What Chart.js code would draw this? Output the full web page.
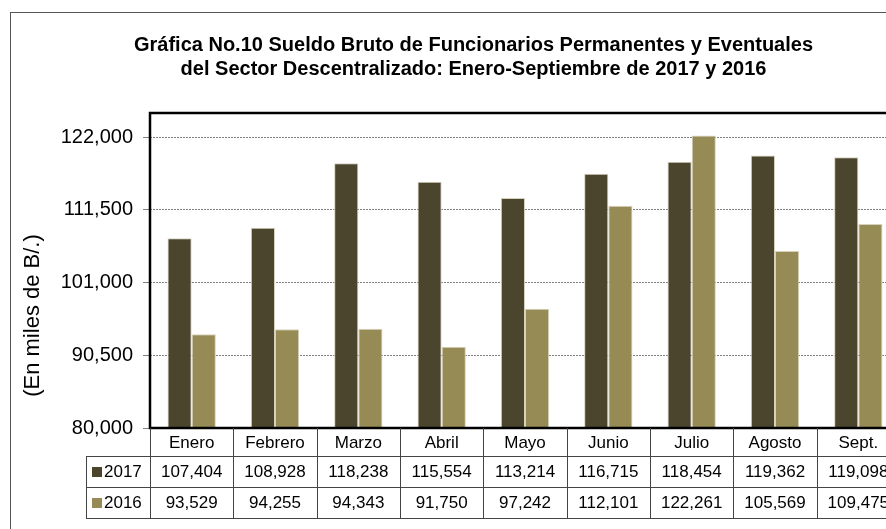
<!DOCTYPE html>
<html lang="es">
<head>
<meta charset="UTF-8">
<title>Gráfica No.10 Sueldo Bruto</title>
<script src="https://cdn.jsdelivr.net/npm/chart.js"></script>
<style>
  body { margin: 0; overflow: hidden; background: #fff; }
  .frame {
    position: absolute;
    left: 10px;
    top: 12px;
    width: 924px;
    height: 540px;
    border: 1px solid #555;
  }
  canvas { display: block; }
</style>
</head>
<body>
<div class="frame"><canvas id="chart" width="924" height="540"></canvas></div>
<script>
  const months = ['Enero', 'Febrero', 'Marzo', 'Abril', 'Mayo', 'Junio', 'Julio', 'Agosto', 'Sept.'];
  const sueldo2017 = [107404, 108928, 118238, 115554, 113214, 116715, 118454, 119362, 119098];
  const sueldo2016 = [93529, 94255, 94343, 91750, 97242, 112101, 122261, 105569, 109475];
  const seriesNames = ['2017', '2016'];
  const yTicks = [80000, 90500, 101000, 111500, 122000];

  const FONT = '"Liberation Sans", Arial, sans-serif';
  const colors = ['#4b452e', '#978b55'];
  const fmt = v => v.toLocaleString('en-US');

  // data table under the plot + frame + rotated axis title
  const dataTable = {
    id: 'dataTable',
    afterDatasetsDraw(chart) {
      const { ctx, chartArea: a } = chart;
      ctx.save();
      ctx.strokeStyle = '#000';
      ctx.lineWidth = 2.5;
      ctx.strokeRect(a.left, a.top, a.right - a.left, a.bottom - a.top);
      ctx.restore();
    },
    afterDraw(chart) {
      const { ctx, chartArea: a, scales: { x } } = chart;
      const rows = [a.bottom, a.bottom + 28, a.bottom + 59, a.bottom + 90];
      const legendLeft = a.left - 64;
      const edges = months.map((m, i) =>
        i === 0 ? a.left : (x.getPixelForValue(i - 1) + x.getPixelForValue(i)) / 2);
      edges.push(a.right);

      ctx.save();
      ctx.strokeStyle = '#444';
      ctx.lineWidth = 1;
      ctx.beginPath();
      for (let r = 1; r < rows.length; r++) {
        ctx.moveTo(legendLeft, Math.round(rows[r]) + 0.5);
        ctx.lineTo(a.right, Math.round(rows[r]) + 0.5);
      }
      edges.forEach((e, i) => {
        if (i === 0) return;
        ctx.moveTo(Math.round(e) + 0.5, rows[0]);
        ctx.lineTo(Math.round(e) + 0.5, rows[3]);
      });
      ctx.moveTo(Math.round(a.left) + 0.5, rows[0]);
      ctx.lineTo(Math.round(a.left) + 0.5, rows[3]);
      ctx.moveTo(legendLeft + 0.5, rows[1]);
      ctx.lineTo(legendLeft + 0.5, rows[3]);
      ctx.stroke();

      ctx.fillStyle = '#000';
      ctx.font = '17px ' + FONT;
      ctx.textAlign = 'center';
      ctx.textBaseline = 'middle';
      const series = [sueldo2017, sueldo2016];
      months.forEach((m, i) => {
        const cx = (edges[i] + edges[i + 1]) / 2;
        ctx.fillText(m, cx, rows[0] + 15);
        series.forEach((s, k) => ctx.fillText(fmt(s[i]), cx, rows[k + 1] + 16));
      });

      ctx.textAlign = 'left';
      seriesNames.forEach((n, k) => {
        const cy = rows[k + 1] + 16;
        ctx.fillStyle = colors[k];
        ctx.fillRect(legendLeft + 6, cy - 5, 10, 10);
        ctx.fillStyle = '#000';
        ctx.fillText(n, legendLeft + 18, cy);
      });

      ctx.translate(22, (a.top + rows[3]) / 2);
      ctx.rotate(-Math.PI / 2);
      ctx.textAlign = 'center';
      ctx.font = '22px ' + FONT;
      ctx.fillText('(En miles de B/.)', 0, 0);
      ctx.restore();
    }
  };

  new Chart(document.getElementById('chart'), {
    type: 'bar',
    data: {
      labels: months,
      datasets: [
        { label: seriesNames[0], data: sueldo2017, backgroundColor: colors[0] },
        { label: seriesNames[1], data: sueldo2016, backgroundColor: colors[1] }
      ]
    },
    options: {
      responsive: false,
      animation: false,
      layout: { padding: { left: 36, right: 35, top: 0, bottom: 125 } },
      datasets: {
        bar: {
          categoryPercentage: 0.58,
          barPercentage: 1.0,
          borderWidth: 1,
          borderColor: '#d6d2be'
        }
      },
      plugins: {
        legend: { display: false },
        tooltip: { enabled: false },
        title: {
          display: true,
          text: ['Gráfica No.10 Sueldo Bruto de Funcionarios Permanentes y Eventuales',
                 'del Sector Descentralizado: Enero-Septiembre de 2017 y 2016'],
          color: '#000',
          font: { family: FONT, size: 20, weight: 'bold', lineHeight: 1.2 },
          padding: { top: 20, bottom: 32 }
        }
      },
      scales: {
        x: { display: false },
        y: {
          min: 80000,
          max: 125500,
          afterBuildTicks: scale => { scale.ticks = yTicks.map(v => ({ value: v })); },
          afterFit: scale => { scale.width = 103; },
          ticks: {
            color: '#000',
            padding: 10,
            font: { family: FONT, size: 20 },
            callback: v => fmt(v)
          },
          grid: {
            color: c => (c.tick && c.tick.value === 80000 ? 'rgba(0,0,0,0)' : '#808080'),
            tickColor: '#808080',
            tickLength: 7
          },
          border: { display: false, dash: [2, 1] }
        }
      }
    },
    plugins: [dataTable]
  });
</script>
</body>
</html>
